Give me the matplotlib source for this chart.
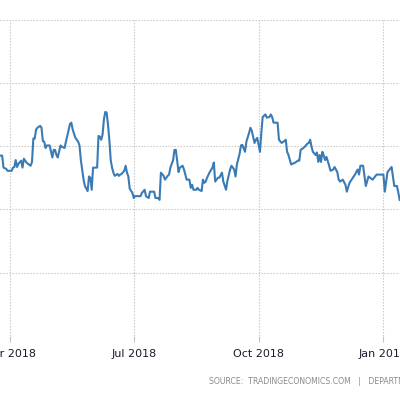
import matplotlib.pyplot as plt
import matplotlib.dates as mdates
import numpy as np
import pandas as pd

# days counted from 2018-03-24 (gridlines every 10)
start = pd.Timestamp("2018-03-24")
days = [0, 2, 3, 5, 6, 9, 10, 11, 12, 13, 14, 16, 17, 18, 20, 21, 23, 24, 25, 26,
        27, 28, 30, 31, 32, 33, 34, 35, 37, 39, 40, 41, 42, 43, 45, 46, 48, 49, 50, 52,
        53, 54, 56, 58, 59, 60, 62, 63, 65, 66, 67, 68, 69, 70, 72, 73, 74, 75, 76, 77,
        78, 79, 80, 81, 82, 83, 84, 85, 87, 88, 89, 90, 92, 93, 94, 95, 96, 98, 99, 100,
        101, 104, 105, 107, 108, 110, 111, 112, 114, 115, 117, 118, 119, 121, 122, 124, 125, 126, 128, 129,
        130, 132, 133, 135, 136, 138, 140, 141, 142, 143, 145, 146, 147, 149, 150, 151, 152, 153, 155, 157,
        158, 159, 160, 161, 162, 164, 165, 167, 168, 170, 171, 173, 174, 175, 177, 178, 179, 181, 182, 184,
        185, 186, 188, 189, 190, 191, 192, 193, 194, 196, 197, 199, 200, 201, 202, 203, 205, 206, 208, 210,
        211, 212, 213, 215, 216, 218, 220, 221, 222, 224, 225, 227, 228, 229, 230, 231, 233, 234, 235, 236,
        237, 238, 239, 240, 241, 243, 244, 246, 247, 249, 250, 251, 253, 255, 256, 258, 262, 264, 265, 266,
        268, 270, 272, 275, 278, 283, 284, 286, 289, 291, 293, 295]
values = [28.5, 28.5, 26.6, 26.4, 26.1, 26.1, 26.6, 26.7, 27.8, 26.7, 27.2, 27.7, 26.6, 28.0, 27.4, 27.2, 26.9, 27.5, 31.2, 31.2,
          32.6, 32.9, 33.2, 32.9, 30.8, 30.7, 29.7, 30.1, 30.1, 28.2, 29.4, 29.4, 28.6, 28.2, 30.1, 29.9, 29.7, 30.7, 31.6, 33.5,
          33.7, 32.6, 31.3, 30.7, 30.1, 27.8, 24.7, 23.7, 22.9, 25.2, 25.0, 23.1, 26.6, 26.6, 26.6, 31.6, 31.5, 31.0, 31.8, 34.2,
          35.4, 35.3, 33.4, 31.0, 27.8, 26.6, 25.8, 25.3, 25.6, 25.3, 25.5, 25.6, 26.1, 26.9, 25.8, 25.2, 23.3, 22.6, 21.8, 22.1,
          22.1, 22.1, 22.6, 23.1, 22.1, 21.8, 22.8, 22.8, 22.8, 21.8, 21.8, 21.5, 25.8, 25.3, 24.7, 25.3, 25.5, 26.6, 27.8, 29.4,
          29.4, 25.9, 26.6, 26.9, 26.3, 24.7, 24.7, 23.4, 23.9, 23.1, 23.1, 23.4, 23.1, 22.9, 24.7, 24.2, 24.4, 25.0, 25.9, 26.6,
          27.4, 24.4, 24.7, 25.0, 25.0, 25.8, 24.4, 23.1, 24.5, 26.3, 26.9, 26.3, 25.2, 27.1, 28.8, 30.1, 30.2, 29.1, 30.7, 32.1,
          32.9, 32.4, 30.5, 31.0, 31.3, 30.2, 29.1, 32.1, 34.6, 35.0, 34.5, 34.6, 35.0, 34.6, 33.7, 33.7, 33.7, 31.0, 30.5, 30.8,
          31.0, 29.1, 28.6, 27.1, 27.2, 27.4, 27.7, 27.7, 29.4, 29.7, 29.9, 30.4, 30.5, 31.0, 29.9, 29.1, 28.6, 29.0, 27.5, 28.6,
          27.5, 29.1, 28.5, 27.8, 28.3, 26.9, 26.1, 26.3, 26.7, 25.9, 24.7, 24.4, 24.7, 23.9, 22.8, 24.2, 25.5, 26.3, 25.5, 26.9,
          26.9, 23.7, 25.2, 24.7, 25.5, 25.5, 22.8, 25.9, 26.7, 23.7, 23.7, 21.5]

dates = start + pd.to_timedelta(days, unit="D")
ticks = pd.to_datetime(["2018-04-01", "2018-07-01", "2018-10-01", "2019-01-01"])

fig = plt.figure(figsize=(4, 3.94), dpi=100)
ax = fig.add_axes([0, 0.1472, 1, 0.8033])

ax.plot(dates, values, color="#3a7bb5", lw=1.5, solid_joinstyle="round")

ax.set_xlim(start + pd.Timedelta(hours=10), start + pd.Timedelta(days=295, hours=5))
ax.set_ylim(0, 50)
ax.set_yticks([0, 10, 20, 30, 40, 50])
ax.set_xticks(ticks)
ax.xaxis.set_major_formatter(mdates.DateFormatter("%b %Y"))
ax.grid(True, color="#c4c4c4", lw=0.8, linestyle=(0, (1.2, 1.5)))
ax.set_axisbelow(True)
for s in ax.spines.values():
    s.set_visible(False)
ax.tick_params(axis="y", left=False, labelleft=False)
ax.tick_params(axis="x", length=4, width=0.8, color="#c4c4c4", pad=5, labelsize=8, labelcolor="#1a1a2e")

fig.text(0.522, 0.031, "SOURCE:  TRADINGECONOMICS.COM   |   DEPARTMENT OF LABOR",
         fontsize=5.6, color="#8a8a8a", ha="left", va="center")

fig.savefig("out.png", dpi=100)
